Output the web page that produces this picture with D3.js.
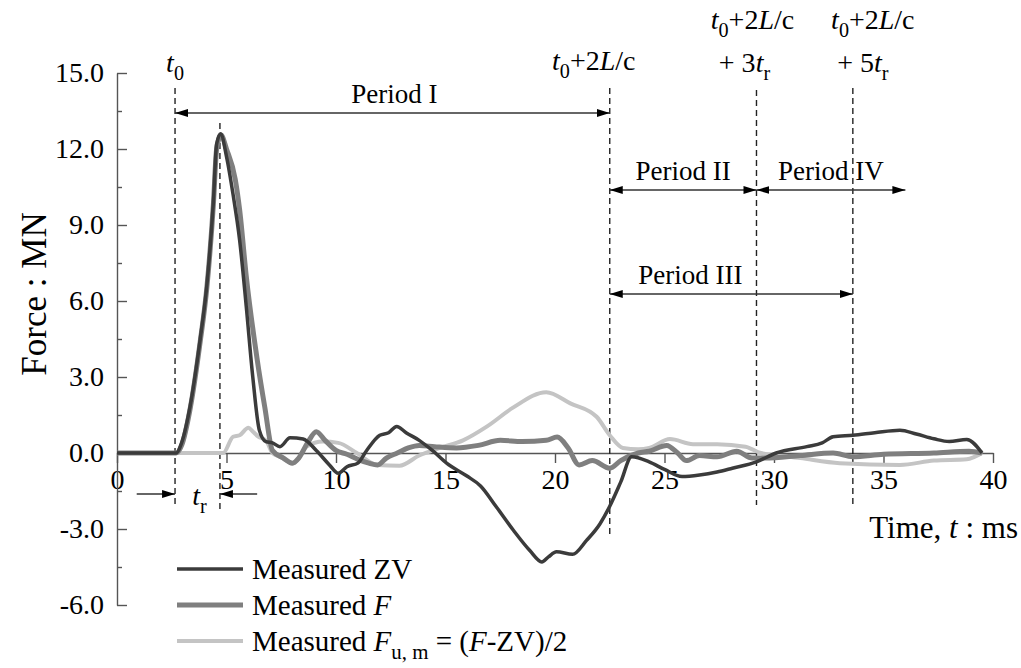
<!DOCTYPE html>
<html>
<head>
	<meta charset="utf-8"/>
	<script src="https://d3js.org/d3.v7.min.js"></script>
	<style type="text/css">
		body { margin: 0; background: #fff; }
		svg { font-family: "Liberation Serif", "DejaVu Serif", serif; }
	</style>
</head>
<body>
	<svg id="chart" width="1021" height="668"></svg>
	<script type="text/javascript">

		// readings from the picture: [time ms, force MN]
		var zvData = [[0,0],[2.7,0],[2.95,0.4],[3.33,1.8],[3.8,4.5],[4.1,6.6],[4.4,9.9],[4.55,12.2],[4.73,12.6],
			[5.0,11.7],[5.3,10.2],[5.6,8.4],[5.9,5.8],[6.2,3.0],[6.5,0.9],[6.8,0.45],[7.1,0.4],[7.44,0.25],
			[7.9,0.6],[8.5,0.55],[9.1,0.1],[9.7,-0.47],[10.1,-0.8],[10.5,-0.54],[11.0,-0.4],[11.4,0.1],
			[12.0,0.7],[12.4,0.8],[12.77,1.05],[13.2,0.8],[13.8,0.5],[14.4,0.1],[15.05,-0.4],[15.96,-0.9],
			[16.6,-1.3],[17.3,-2.1],[18.1,-3.05],[18.85,-3.85],[19.4,-4.3],[19.7,-4.1],[20.07,-3.9],[20.8,-4.0],
			[21.44,-3.45],[22.05,-2.8],[22.5,-2.1],[23.0,-1.15],[23.5,-0.15],[24.3,-0.35],[25.0,-0.65],
			[25.8,-0.93],[26.6,-0.87],[27.4,-0.75],[28.1,-0.6],[29.2,-0.35],[30.1,0],[31.5,0.25],[32.2,0.4],
			[32.7,0.64],[33.6,0.7],[34.6,0.8],[35.75,0.9],[36.5,0.75],[37.3,0.56],[38,0.45],[38.8,0.53],[39.5,0]];

		var fData = [[0,0],[2.7,0],[2.95,0.3],[3.33,1.7],[3.8,4.4],[4.1,6.5],[4.4,9.8],[4.55,12.0],[4.75,12.55],
			[5.0,12.0],[5.4,10.8],[5.6,9.6],[5.9,7.0],[6.4,3.7],[6.75,1.8],[7.1,0.1],[7.6,-0.2],[8.0,-0.4],
			[8.3,-0.2],[8.7,0.4],[9.1,0.84],[9.5,0.5],[10.0,0.1],[10.5,-0.05],[11.0,-0.25],[11.5,-0.4],
			[11.9,-0.47],[12.3,-0.2],[12.8,0.0],[13.3,0.2],[13.8,0.3],[14.5,0.25],[15.5,0.2],[16.5,0.3],
			[17.5,0.5],[18.5,0.45],[19.6,0.5],[20.1,0.63],[20.6,0.2],[21.1,-0.47],[21.7,-0.3],[22.5,-0.6],
			[23.0,-0.3],[23.8,0.0],[24.3,0.07],[25.1,0.3],[25.6,0.0],[26.0,-0.3],[26.6,-0.1],[27.4,-0.15],
			[28.3,0.07],[29.0,-0.2],[29.6,-0.2],[31.2,-0.1],[32.7,0],[33.6,-0.15],[35,-0.05],[37.3,0],
			[38.9,0.07],[39.5,0]];

		var fumData = [[0,0],[4.85,0],[5.3,0.64],[5.6,0.7],[6.0,1.0],[6.2,0.85],[6.45,0.65],[6.8,0.5],[7.1,0.0],
			[7.44,-0.15],[8.05,-0.4],[8.66,0.25],[9.4,0.45],[10.1,0.4],[10.95,0],[11.86,-0.47],[12.9,-0.5],
			[13.8,-0.1],[14.75,0.2],[15.8,0.5],[16.9,1.05],[18.1,1.8],[19.6,2.4],[20.7,1.96],[21.9,1.43],
			[22.5,0.7],[23.1,0.2],[23.8,0.15],[24.3,0.2],[25.25,0.55],[26.3,0.35],[27.4,0.35],[28.7,0.25],
			[29.4,0],[31.2,-0.2],[33.0,-0.4],[35.75,-0.47],[37.3,-0.3],[38.8,-0.25],[39.5,0]];

		var xTicks = [0, 5, 10, 15, 20, 25, 30, 35, 40];
		var yTicks = [-6, -3, 0, 3, 6, 9, 12, 15];
		var yMinorTicks = [-4.5, -1.5, 1.5, 4.5, 7.5, 10.5, 13.5];

		// marker times: t0, t0+tr, t0+2L/c, +3tr, +5tr
		var markerTimes = [2.65, 4.7, 22.5, 29.2, 33.6];

		var x = d3.scaleLinear().domain([0, 40]).range([117, 993]);
		var y = d3.scaleLinear().domain([-6, 15]).range([605, 73]);

		var svg = d3.select("#chart");

		svg.append("defs").append("marker")
			.attr("id", "head")
			.attr("markerUnits", "userSpaceOnUse")
			.attr("markerWidth", 14).attr("markerHeight", 10)
			.attr("refX", 13).attr("refY", 4)
			.attr("orient", "auto-start-reverse")
			.append("path")
				.attr("d", "M0,0 L13,4 L0,8 Z")
				.style("fill", "#000");

		// axes
		svg.append("g")
			.attr("transform", "translate(0," + y(0) + ")")
			.call(d3.axisBottom(x).tickValues(xTicks).tickSize(10).tickSizeOuter(0).tickPadding(6));
		svg.append("g")
			.attr("transform", "translate(" + x(0) + ",0)")
			.call(d3.axisLeft(y).tickValues(yTicks).tickSize(-10).tickSizeOuter(0).tickPadding(13)
				.tickFormat(function(d) { return d.toFixed(1); }));
		svg.append("g")
			.attr("transform", "translate(" + x(0) + ",0)")
			.call(d3.axisLeft(y).tickValues(yMinorTicks).tickSize(-5).tickSizeOuter(0).tickFormat(""))
			.select(".domain").remove();

		svg.selectAll(".domain, .tick line").style("stroke", "#555").style("stroke-width", 1.4);
		svg.selectAll(".tick text").style("font-size", "28px").style("fill", "#000")
			.style("font-family", "Liberation Serif");

		// dashed marker lines
		var dashTops = [88, 123, 88, 90, 88];
		var dashBottoms = [505, 510, 535, 505, 505];
		svg.append("g").selectAll("line")
			.data(markerTimes).enter()
			.append("line")
				.attr("x1", function(d) { return x(d); })
				.attr("x2", function(d) { return x(d); })
				.attr("y1", function(d, i) { return dashTops[i]; })
				.attr("y2", function(d, i) { return dashBottoms[i]; })
				.style("stroke", "#222")
				.style("stroke-width", 1.4)
				.style("stroke-dasharray", "6,4");

		// curves
		var line = d3.line()
			.x(function(d) { return x(d[0]); })
			.y(function(d) { return y(d[1]); })
			.curve(d3.curveMonotoneX);

		var series = [
			{ data: fumData, color: "#c4c4c4", width: 4 },
			{ data: fData, color: "#7f7f7f", width: 5 },
			{ data: zvData, color: "#3b3b3b", width: 3.5 }
		];
		svg.append("g").selectAll("path")
			.data(series).enter()
			.append("path")
				.attr("d", function(d) { return line(d.data); })
				.style("fill", "none")
				.style("stroke", function(d) { return d.color; })
				.style("stroke-width", function(d) { return d.width; })
				.style("stroke-linejoin", "round");

		// rich text helper: parts of {t, i (italic), sub}
		function rich(g, px, py, parts, size, anchor) {
			var t = g.append("text")
				.attr("x", px).attr("y", py)
				.attr("text-anchor", anchor || "middle")
				.style("font-size", size + "px")
				.style("fill", "#000");
			var shifted = false;
			parts.forEach(function(p) {
				var s = t.append("tspan").text(p.t);
				if (p.i) s.style("font-style", "italic");
				if (p.sub) {
					s.style("font-size", (size * 0.72) + "px");
					if (!shifted) { s.attr("dy", size * 0.28); shifted = true; }
				} else if (shifted) {
					s.attr("dy", -size * 0.28); shifted = false;
				}
			});
			return t;
		}

		var ann = svg.append("g");
		var tlc = [{t:"t", i:true}, {t:"0", sub:true}, {t:"+2"}, {t:"L", i:true}, {t:"/c"}];
		rich(ann, x(markerTimes[0]), 72, [{t:"t", i:true}, {t:"0", sub:true}], 28);
		rich(ann, x(markerTimes[2]) - 16, 70, tlc, 28);
		rich(ann, x(markerTimes[3]) - 4, 29, tlc, 28);
		rich(ann, x(markerTimes[3]) - 12, 72, [{t:"+ 3"}, {t:"t", i:true}, {t:"r", sub:true}], 28);
		rich(ann, x(markerTimes[4]) + 20, 29, tlc, 28);
		rich(ann, x(markerTimes[4]) + 10, 72, [{t:"+ 5"}, {t:"t", i:true}, {t:"r", sub:true}], 28);

		// period arrows
		var periods = [
			{ name: "Period I", t1: markerTimes[0], t2: markerTimes[2], y: 113 },
			{ name: "Period II", t1: markerTimes[2], t2: markerTimes[3], y: 190 },
			{ name: "Period IV", t1: markerTimes[3], t2: 36.0, y: 190 },
			{ name: "Period III", t1: markerTimes[2], t2: markerTimes[4], y: 294 }
		];
		var labelOffsets = [2, 0, 0, -41];
		periods.forEach(function(p, i) {
			ann.append("line")
				.attr("x1", x(p.t1)).attr("x2", x(p.t2))
				.attr("y1", p.y).attr("y2", p.y)
				.style("stroke", "#333").style("stroke-width", 1.5)
				.attr("marker-start", "url(#head)")
				.attr("marker-end", "url(#head)");
			ann.append("text")
				.attr("x", (x(p.t1) + x(p.t2)) / 2 + labelOffsets[i])
				.attr("y", p.y - 10)
				.attr("text-anchor", "middle")
				.style("font-size", "27px")
				.text(p.name);
		});

		// rise-time arrows
		ann.append("line")
			.attr("x1", x(0.9)).attr("x2", x(markerTimes[0]))
			.attr("y1", 494).attr("y2", 494)
			.style("stroke", "#333").style("stroke-width", 1.5)
			.attr("marker-end", "url(#head)");
		ann.append("line")
			.attr("x1", x(6.4)).attr("x2", x(markerTimes[1]))
			.attr("y1", 494).attr("y2", 494)
			.style("stroke", "#333").style("stroke-width", 1.5)
			.attr("marker-end", "url(#head)");
		rich(ann, (x(markerTimes[0]) + x(markerTimes[1])) / 2 + 2, 505, [{t:"t", i:true}, {t:"r", sub:true}], 28);

		// axis titles
		rich(svg, 1018, 538, [{t:"Time, "}, {t:"t", i:true}, {t:" : ms"}], 31, "end");
		svg.append("text")
			.attr("transform", "translate(46,294) rotate(-90)")
			.attr("text-anchor", "middle")
			.style("font-size", "35px")
			.text("Force : MN");

		// legend
		var legendRows = [
			{ s: series[2], parts: [{t:"Measured ZV"}] },
			{ s: series[1], parts: [{t:"Measured "}, {t:"F", i:true}] },
			{ s: series[0], parts: [{t:"Measured "}, {t:"F", i:true}, {t:"u, m", sub:true}, {t:" = ("}, {t:"F", i:true}, {t:"-ZV)/2"}] }
		];
		var legend = svg.append("g");
		legendRows.forEach(function(r, i) {
			var ly = 569 + i * 36;
			legend.append("line")
				.attr("x1", 177).attr("x2", 243)
				.attr("y1", ly).attr("y2", ly)
				.style("stroke", r.s.color).style("stroke-width", r.s.width);
			rich(legend, 252, ly + 10, r.parts, 29, "start");
		});

	</script>
</body>
</html>
